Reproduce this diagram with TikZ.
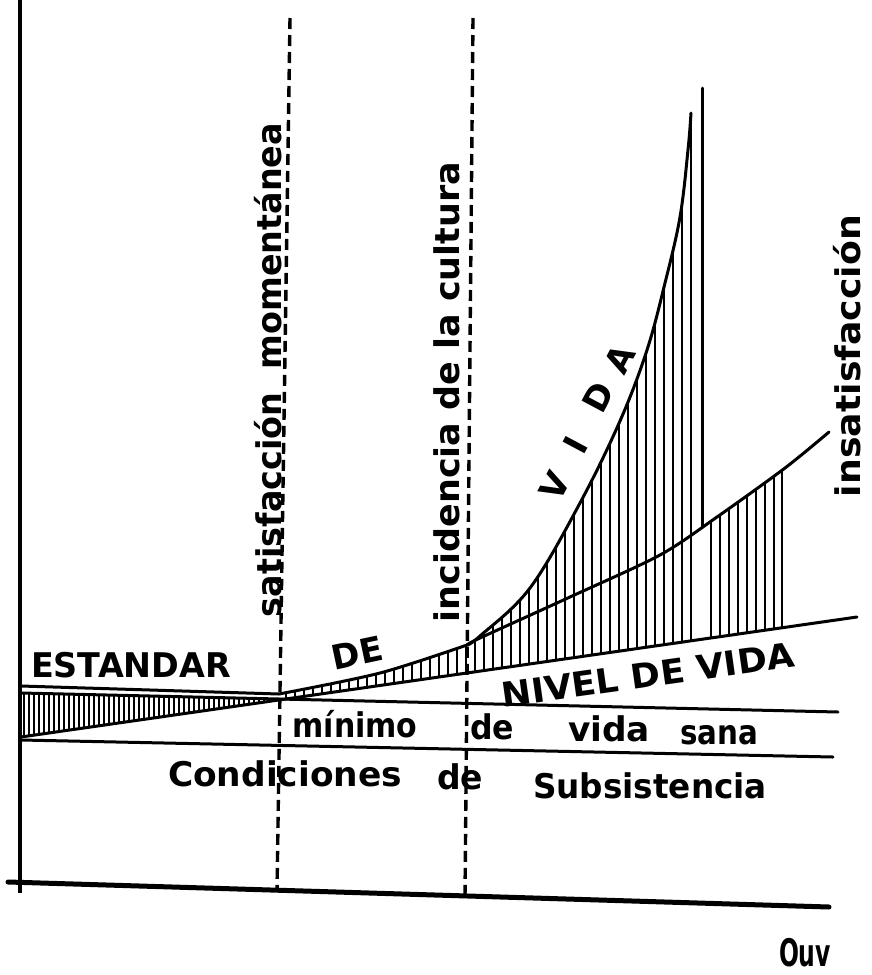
\documentclass[tikz,border=0pt]{standalone}
\usepackage{fontspec}
\setmainfont{DejaVu Sans}
\usepackage{graphicx}
\newcommand{\fitto}[2]{\resizebox{#1}{\height}{#2}}
\begin{document}
\begin{tikzpicture}[x=1pt,y=-1pt,
  lbl/.style={font=\fontsize{34}{40}\selectfont\bfseries, inner sep=0pt},
  ln/.style={line width=3pt, line cap=round, line join=round},
  axisline/.style={line width=5pt, line cap=round},
  dashline/.style={line width=3.4pt, dash pattern=on 11pt off 6pt},
  hatchline/.style={line width=1.9pt}]
\useasboundingbox (0,0) rectangle (871,975);

% axes
\draw[line width=4pt] (20,0) -- (20,893);
\draw[axisline] (8,882) -- (829,907);

% hatching, left wedge
\begin{scope}
  \clip (21,693) -- (279,699) -- (21,737) -- cycle;
  \foreach \x in {24,29,...,279} \draw[hatchline] (\x,680) -- (\x,745);
\end{scope}

% hatching, right regions
\begin{scope}
  \clip plot[smooth] coordinates {(279,694) (380,673) (467,645)}
     -- plot[smooth,tension=0.6] coordinates {(467,645) (480,636) (530,588) (580,503) (620,421) (647,350) (665,283) (680,217) (688,150) (691,113)}
     -- (702,113) -- (702,527)
     -- plot[smooth] coordinates {(702,527) (717,517) (750,494) (782,470)}
     -- (782,628) -- (279,700) -- cycle;
  \foreach \x in {286,295,...,691} \draw[hatchline] (\x,80) -- (\x,720);
  \foreach \x in {711,720,...,780} \draw[hatchline] (\x,400) -- (\x,720);
\end{scope}

% main lines
\draw[ln] (21,686) -- (279,694);
\draw[ln] (21,693) -- (838,712);
\draw[ln] (21,737) -- (857,617);
\draw[ln] (21,740) -- (833,757);
\draw[ln] plot[smooth] coordinates {(279,694) (380,673) (467,645)};
\draw[ln] plot[smooth,tension=0.6] coordinates {(467,645) (480,636) (530,588) (580,503) (620,421) (647,350) (665,283) (680,217) (688,150) (691,113)};
\draw[ln] plot[smooth] coordinates {(467,645) (480,638) (570,597) (660,555) (717,517) (785,468) (829,432)};
\draw[ln] (702,88) -- (702,527);
\draw[line width=2.2pt] (782,470) -- (782,628);

% dashed verticals
\draw[dashline] (290,18) -- (277,891);
\draw[dashline] (473,18) -- (465,897);

% labels
\node[lbl, anchor=base] (estandar) at (131,677) {\fitto{200pt}{ESTANDAR}};
\node[lbl, rotate=12] (de1) at (357,653) {DE};
\node[lbl, rotate=62] (lv) at (555,486) {V};
\node[lbl, rotate=62] (li) at (576,445) {I};
\node[lbl, rotate=62] (ld) at (598,397) {D};
\node[lbl, rotate=62] (la) at (620,359) {A};
\node[lbl, rotate=8] (nivel) at (648,675) {\fitto{295pt}{NIVEL DE VIDA}};

\node[lbl, anchor=base] (minimo) at (355,737) {\fitto{125pt}{mínimo}};
\node[lbl, anchor=base] (de2) at (492,739) {\fitto{44pt}{de}};
\node[lbl, anchor=base] (vida) at (609,741) {\fitto{82pt}{vida}};
\node[lbl, anchor=base] (sana) at (719,744) {\fitto{78pt}{sana}};

\node[lbl, anchor=base] (cond) at (285,786) {\fitto{234pt}{Condiciones}};
\node[lbl, anchor=base] (de3) at (460,789) {\fitto{46pt}{de}};
\node[lbl, anchor=base] (subs) at (650,798) {\fitto{234pt}{Subsistencia}};

\node[lbl, rotate=90, anchor=base] (satis) at (281,370) {\fitto{494pt}{satisfacción\ \ momentánea}};
\node[lbl, rotate=90, anchor=base] (incid) at (459,392) {\fitto{460pt}{incidencia de la cultura}};
\node[lbl, rotate=90, anchor=base] (insat) at (860,356) {\fitto{282pt}{insatisfacción}};

\node[lbl, anchor=base] (ouv) at (805,966) {\fitto{52pt}{\fontsize{38}{40}\selectfont Ouv}};
\end{tikzpicture}
\end{document}
